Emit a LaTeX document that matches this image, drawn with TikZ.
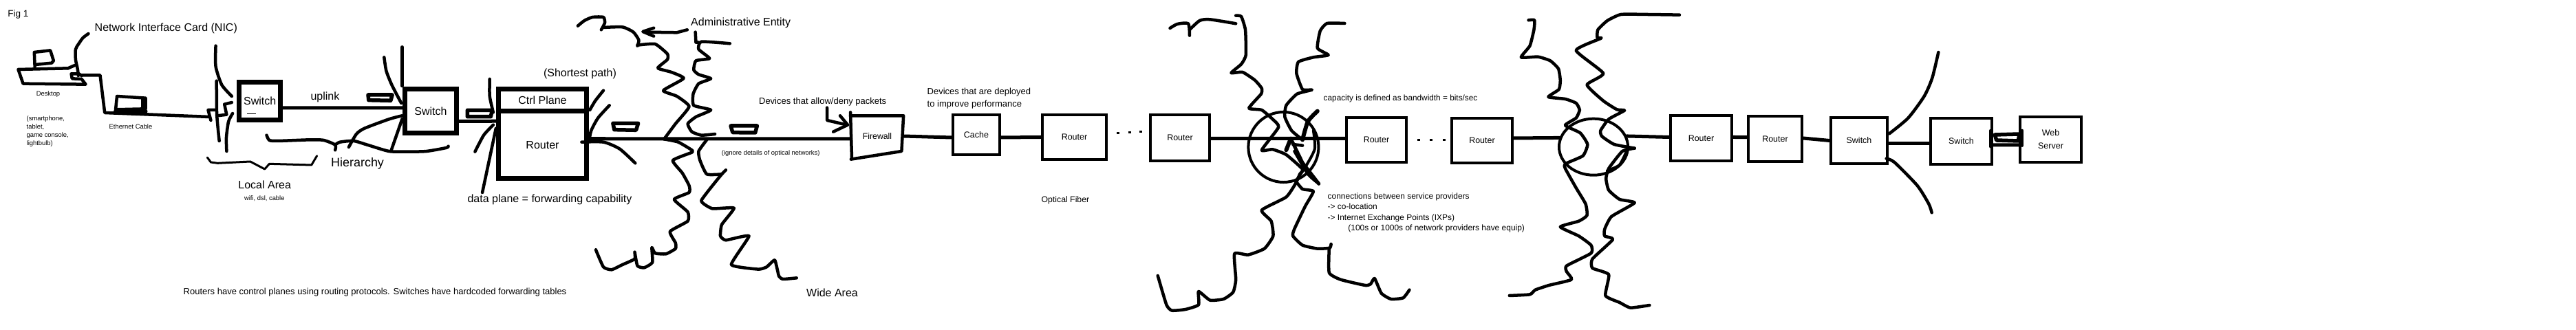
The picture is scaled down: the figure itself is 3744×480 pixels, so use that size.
\documentclass[tikz,border=0pt]{standalone}
\usepackage{fontspec}
\setmainfont{Liberation Sans}
\usetikzlibrary{shapes.geometric}
\tikzset{
  ink/.style={draw=black,line width=.04cm,line cap=round,line join=round},
  scrib/.style={draw=black,line width=.045cm,line cap=round,line join=round},
  plug/.style={draw=black,line width=.055cm,line cap=round,line join=round},
  link/.style={draw=black,line width=.05cm,line cap=round},
  heavy/.style={draw=black,line width=.07cm,inner sep=0pt},
  netbox/.style={draw=black,line width=.04cm,inner sep=0pt,font=\fontsize{3.55}{5.4}\selectfont,align=center},
  txt/.style={inner sep=0pt,align=left},
  tiny/.style={txt,font=\fontsize{2.67}{3.41}\selectfont},
  small/.style={txt,font=\fontsize{3.5}{4.4}\selectfont},
  med/.style={txt,font=\fontsize{3.7}{5}\selectfont},
  big/.style={txt,font=\fontsize{4.55}{5.5}\selectfont},
  cropA/.style={xscale=.3954,yscale=.33333},
  cropB/.style={shift={(620,0)},xscale=.3954,yscale=.33333},
  cropC/.style={shift={(1240,0)},xscale=.3954,yscale=.33333},
  cropD/.style={shift={(1640,0)},xscale=.3954,yscale=.33333},
  cropE/.style={shift={(2180,0)},xscale=.3954,yscale=.33333},
  cropF/.style={shift={(2640,0)},scale=.33333},
}
\begin{document}
\begin{tikzpicture}[x=.01cm,y=-.01cm]
\fill[white] (0,0) rectangle (3744,480);
\useasboundingbox (0,0) rectangle (3744,480);

% ---------- boxes
\node[heavy,font=\fontsize{4.55}{5.5}\selectfont,minimum width=.60cm,minimum height=.54cm] (sw1) at (377.7,147) {Switch};
\node[heavy,font=\fontsize{4.55}{5.5}\selectfont,minimum width=.74cm,minimum height=.63cm] (sw2) at (626,161.5) {Switch};
\node[heavy,font=\fontsize{4.55}{5.5}\selectfont,minimum width=1.28cm,minimum height=.325cm] (ctrl) at (788.5,145.75) {Ctrl Plane};
\node[heavy,font=\fontsize{4.55}{5.5}\selectfont,minimum width=1.28cm,minimum height=.975cm] (rt) at (788.5,210.75) {Router};
\node[small,minimum width=.75cm,minimum height=.6cm,align=center] (fw) at (1275,198) {Firewall};
\node[netbox,line width=.045cm,minimum width=.68cm,minimum height=.58cm] (cache) at (1419,196) {Cache};
\node[netbox,minimum width=.92cm,minimum height=.65cm] (r3) at (1561.5,199.5) {Router};
\node[netbox,minimum width=.86cm,minimum height=.67cm] (r4) at (1715,200.5) {Router};
\node[netbox,minimum width=.87cm,minimum height=.65cm] (r5) at (2000.5,203.5) {Router};
\node[netbox,minimum width=.88cm,minimum height=.65cm] (r6) at (2154,204.5) {Router};
\node[netbox,minimum width=.89cm,minimum height=.66cm] (r7) at (2472.5,201) {Router};
\node[netbox,minimum width=.78cm,minimum height=.66cm] (r8) at (2580,202) {Router};
\node[netbox,minimum width=.82cm,minimum height=.67cm] (sw3) at (2702,204.5) {Switch};
\node[netbox,minimum width=.89cm,minimum height=.67cm] (sw4) at (2850.5,205.5) {Switch};
\node[netbox,minimum width=.89cm,minimum height=.66cm] (web) at (2980.5,203) {Web\\Server};
\node[ink,circle,inner sep=0pt,minimum size=1.02cm] (ixpa) at (1865.4,214) {};
\node[ink,ellipse,inner sep=0pt,minimum width=1.0cm,minimum height=.82cm] (ixpb) at (2316,213.7) {};

% ---------- connectors
\draw[link] ([yshift=-.10cm]sw1.east) -- ([yshift=.045cm]sw2.west);
\draw[link] ([yshift=-.15cm]sw2.east) -- ([yshift=.345cm]rt.west);
\draw[link] ([xshift=-.04cm,yshift=.09cm]rt.east) -- ([yshift=-.04cm]fw.west);
\draw[link] (fw.east) -- ([yshift=-.04cm]cache.west);
\draw[link] ([yshift=-.04cm]cache.east) -- (r3.west);
\draw[link] ([yshift=-.01cm]r4.east) -- ([yshift=.02cm]r5.west);
\draw[link] ([yshift=.035cm]r6.east) -- (ixpb.165);
\draw[link] (ixpb.18) -- ([yshift=.015cm]r7.west);
\draw[link] ([yshift=.015cm]r7.east) -- ([yshift=.024cm]r8.west);
\draw[link] ([yshift=.01cm]r8.east) -- (sw3.west);
\draw[link] ([yshift=-.04cm]sw3.east) -- ([yshift=-.03cm]sw4.west);
\draw[link] ([yshift=-.055cm]sw4.east) -- ([yshift=-.08cm]web.west);

% ---------- crop A scribbles
\begin{scope}[cropA]
\draw[scrib] plot[smooth,tension=.5] coordinates {(325,147)(305,165)(290,190)(278,215)(278,260)(285,300)(288,330)};
\draw[scrib] (128,290)--(126,228)--(185,220)--(197,265)--(190,275)--(130,282);
\draw[scrib] (250,298)--(67,303)--(85,365)--(315,368)--(300,345)--(265,343)--(262,322)--(290,322)--(300,330);
\draw[scrib] (250,298)--(275,285);
\draw[scrib] (300,328)--(368,328)--(385,492)--(770,510);
\draw[scrib,line width=.06cm] (425,485)--(535,485);
\draw[scrib] (430,420)--(535,428)--(535,475)--(425,478)--cycle;
\draw[scrib,line width=.06cm] (525,432)--(525,470);
\draw[scrib] (775,525)--(765,480)--(790,480);
\draw[scrib] (800,505)--(833,500)--(825,455)--(852,447);
\draw[scrib] plot[smooth,tension=.4] coordinates {(793,200)(793,290)(815,370)(852,420)};
\draw[scrib] plot[smooth,tension=.4] coordinates {(796,353)(797,500)(806,615)};
\draw[scrib] plot[smooth,tension=.4] coordinates {(855,495)(840,530)(832,600)(833,660)};
\draw[line width=.01cm] (908,498)--(940,498);
\draw[scrib,line width=.03cm] (762,687)--(775,708)--(800,712)--(920,705)--(973,738)--(990,715)--(1145,720)--(1165,680);
\draw[scrib] plot[smooth,tension=.4] coordinates {(980,590)(990,612)(1020,615)(1140,610)(1190,612)(1232,632)(1232,655)};
\draw[scrib] plot[smooth,tension=.4] coordinates {(1232,632)(1250,620)(1300,615)(1350,632)(1430,660)(1500,662)(1568,660)(1640,645)(1648,638)};
\draw[scrib] (1478,205)--(1478,375);
\draw[scrib] plot[smooth,tension=.4] coordinates {(1412,250)(1420,310)(1440,370)(1475,450)};
\draw[scrib] plot[smooth,tension=.4] coordinates {(1478,505)(1430,520)(1340,560)(1310,585)(1282,642)};
\draw[scrib] (1478,520)--(1437,660);
\draw[plug] (1353,414)--(1442,414)--(1436,439)--(1355,437)--cycle;
\end{scope}

% ---------- crop B scribbles
\begin{scope}[cropB]
\draw[plug] (150,481)--(241,481)--(236,509)--(150,509)--cycle;
\draw[scrib] plot[smooth,tension=.4] coordinates {(232,345)(232,420)(245,490)};
\draw[scrib] plot[smooth,tension=.4] coordinates {(245,545)(210,590)(178,662)};
\draw[scrib] (255,560)--(230,700)--(205,840);
\draw[scrib] plot[smooth,tension=.4] coordinates {(650,395)(620,440)(600,480)};
\draw[scrib] plot[smooth,tension=.4] coordinates {(672,460)(630,515)(605,570)(598,610)};
\draw[scrib] plot[smooth,tension=.4] coordinates {(570,620)(650,620)(710,650)(767,712)};
\draw[plug] (685,538)--(778,538)--(770,568)--(690,566)--cycle;
\draw[plug] (1118,549)--(1215,549)--(1208,579)--(1125,578)--cycle;
\draw[scrib] plot[smooth,tension=.35] coordinates {(556,113)(580,90)(610,75)(650,75)(655,100)(642,130)};
\draw[scrib] plot[smooth,tension=.35] coordinates {(650,120)(720,118)(760,140)(780,175)(775,200)};
\draw[scrib] plot[smooth,tension=.3] coordinates {(775,197)(840,192)(885,235)(885,260)(850,297)(900,315)(945,342)(870,395)(920,420)(965,465)(915,540)(873,607)};
\draw[scrib] plot[smooth,tension=.3] coordinates {(873,607)(925,620)(975,655)(975,665)(905,700)(940,755)(965,810)(965,840)(910,870)(960,925)(960,965)(895,1010)(915,1060)(915,1085)(880,1108)(840,1105)(828,1080)(830,1145)(800,1168)(775,1160)(765,1100)(765,1130)(720,1155)(680,1177)(650,1165)(622,1090)};
\draw[scrib] (958,130)--(920,142)--(800,140);
\draw[scrib] (835,122)--(795,138)--(835,158);
\draw[scrib] (988,140)--(990,185)--(1000,185);
\draw[scrib] plot[smooth,tension=.3] coordinates {(1115,190)(1010,182)(1000,215)(1040,255)(990,265)(982,305)(1000,325)(1045,343)(1000,365)(980,410)(982,460)(1045,480)(990,510)(960,540)(975,575)(1010,590)(1060,585)};
\draw[scrib] plot[smooth,tension=.3] coordinates {(1030,610)(1000,660)(1005,700)(1030,760)(1085,760)};
\draw[scrib] (1100,742)--(1085,760);
\draw[scrib] plot[smooth,tension=.25] coordinates {(1085,760)(1010,875)(1050,910)(1130,908)(1085,980)(1080,1030)(1100,1048)(1185,1030)(1120,1155)(1220,1175)(1250,1165)(1280,1135)(1295,1205)(1310,1218)(1360,1213)};
\draw[scrib] (1472,470)--(1472,525)--(1545,545);
\draw[scrib] (1520,505)--(1548,545)--(1495,575);
\draw[scrib] (1558,490)--(1563,690);
\end{scope}

% ---------- crop C: firewall outline and dots
\begin{scope}[cropC]
\draw[scrib] (-10,505)--(185,505)--(178,660)--(-8,695);
\fill (968,575) rectangle (978,585);
\fill (1012,572) rectangle (1022,582);
\fill (1053,570) rectangle (1063,580);
\end{scope}

% ---------- crop D scribbles
\begin{scope}[cropD]
\fill (1062,606) rectangle (1072,616);
\fill (1107,606) rectangle (1117,616);
\fill (1155,606) rectangle (1165,616);
\draw[scrib] plot[smooth,tension=.4] coordinates {(153,123)(180,105)(220,103)(225,155)};
\draw[scrib] plot[smooth,tension=.4] coordinates {(225,130)(262,90)(300,85)(395,103)};
\draw[scrib] plot[smooth,tension=.3] coordinates {(395,68)(415,72)(430,130)(432,240)(415,280)(378,318)(420,315)(465,350)(490,385)(488,410)(443,472)(490,480)(530,520)(552,555)(490,655)(530,652)(580,675)(640,738)(630,760)(615,800)(580,860)(490,917)(525,965)(532,1030)(500,1085)(440,1112)(390,1107)(395,1220)(385,1275)(350,1305)(300,1310)(258,1272)(258,1330)(210,1350)(160,1355)(140,1330)(108,1203)};
\draw[scrib] plot[smooth,tension=.3] coordinates {(795,102)(730,102)(705,135)(695,210)(735,240)(680,250)(625,270)(618,320)(640,390)(675,392)(620,410)(580,460)(575,510)(600,570)(640,610)};
\draw[scrib] (640,635)--(605,630);
\draw[scrib,line width=.06cm] plot[smooth,tension=.4] coordinates {(695,485)(660,530)(640,610)};
\draw[scrib,line width=.06cm] (597,605)--(580,655);
\draw[scrib,line width=.05cm] (597,605)--(640,710)--(700,802);
\draw[scrib,line width=.04cm] plot[smooth,tension=.4] coordinates {(610,660)(660,760)(700,802)};
\draw[scrib,line width=.04cm] plot[smooth,tension=.4] coordinates {(680,570)(685,650)(650,730)(615,790)};
\draw[scrib] plot[smooth,tension=.3] coordinates {(615,790)(640,825)(680,835)(650,900)(610,1000)(605,1030)(640,1070)(695,1085)(740,1082)(745,1065)};
\draw[scrib] plot[smooth,tension=.3] coordinates {(738,1085)(738,1190)(780,1220)(870,1245)(890,1240)(905,1215)(930,1280)(965,1305)(1010,1300)(1033,1265)};
\end{scope}

% ---------- crop E scribbles
\begin{scope}[cropE]
\draw[scrib] plot[smooth,tension=.3] coordinates {(105,88)(127,88)(125,130)(110,200)(78,250)(140,248)(185,265)(215,300)(222,350)(217,390)(178,423)(240,432)(280,450)(293,480)(280,515)(240,547)(295,580)(322,630)(305,680)(240,715)(240,735)(280,820)(315,890)(320,940)(290,965)(222,990)(290,1030)(335,1070)(335,1105)(245,1160)(245,1185)(263,1220)(180,1245)(130,1265)(110,1285)(35,1290)};
\draw[scrib] plot[smooth,tension=.3] coordinates {(660,65)(540,63)(445,63)(395,90)(360,130)(358,165)(372,167)(280,220)(380,320)(320,370)(380,440)(430,478)(458,482)(400,520)(370,570)(375,595)(420,630)(495,647)};
\draw[scrib] plot[smooth,tension=.3] coordinates {(495,647)(450,660)(400,735)(390,780)(400,830)(440,870)(495,885)(410,945)(385,1000)(385,1030)(415,1045)(340,1130)(340,1170)(400,1198)(388,1290)(440,1320)(480,1343)(550,1332)};
\draw[scrib] plot[smooth,tension=.4] coordinates {(395,745)(440,720)(470,650)};
\end{scope}

% ---------- crop F scribbles
\begin{scope}[cropF]
\draw[scrib] plot[smooth,tension=.4] coordinates {(318,583)(400,515)(470,420)(505,340)(532,228)};
\draw[scrib] plot[smooth,tension=.4] coordinates {(305,692)(340,708)(440,810)(490,890)(503,928)};
\draw[scrib] (760,570)--(760,640);
\draw[scrib] (897,570)--(897,635);
\draw[plug] (778,588)--(885,585)--(880,615)--(785,612)--cycle;
\end{scope}

% ---------- texts
\node[small,anchor=west,font=\fontsize{3.85}{5}\selectfont] (tfig) at (10.7,20.7) {Fig 1};
\node[big,anchor=west] (tnic) at (137,41.7) {Network Interface Card (NIC)};
\node[tiny] (tdesk) at (70,137) {Desktop};
\node[tiny,anchor=north west] (tsmart) at (38,168) {(smartphone,\\tablet,\\game console,\\lightbulb)};
\node[tiny] (teth) at (190,184) {Ethernet Cable};
\node[big] (tup) at (472.5,141.7) {uplink};
\node[txt,font=\fontsize{5.1}{6}\selectfont] (thier) at (519.6,237.7) {Hierarchy};
\node[big] (tlocal) at (384.7,268.7) {Local Area};
\node[tiny] (twifi) at (384.3,289) {wifi, dsl, cable};
\node[med] (trouters) at (545,425) {Routers have control planes using routing protocols. Switches have hardcoded forwarding tables};
\node[big] (tshort) at (843,107.7) {(Shortest path)};
\node[big] (tdata) at (799,290) {data plane = forwarding capability};
\node[big] (tadmin) at (1076.7,33.3) {Administrative Entity};
\node[med,anchor=west] (tdev) at (1102.4,147.7) {Devices that allow/deny packets};
\node[tiny] (tign) at (1120.2,222.7) {(ignore details of optical networks)};
\node[big] (twide) at (1209.5,425.7) {Wide Area};
\node[med,anchor=west,font=\fontsize{3.7}{4.93}\selectfont] (tperf) at (1347,143.3) {Devices that are deployed\\to improve performance};
\node[small] (topt) at (1548.4,291) {Optical Fiber};
\node[small,anchor=west,font=\fontsize{3.36}{4.4}\selectfont] (tcap) at (1923,143) {capacity is defined as bandwidth = bits/sec};
\node[small,anchor=west,font=\fontsize{3.4}{4.35}\selectfont] (tconn) at (1929,309.3) {connections between service providers\\-> co-location\\-> Internet Exchange Points (IXPs)\\\hspace*{.297cm}(100s or 1000s of network providers have equip)};
\end{tikzpicture}
\end{document}
